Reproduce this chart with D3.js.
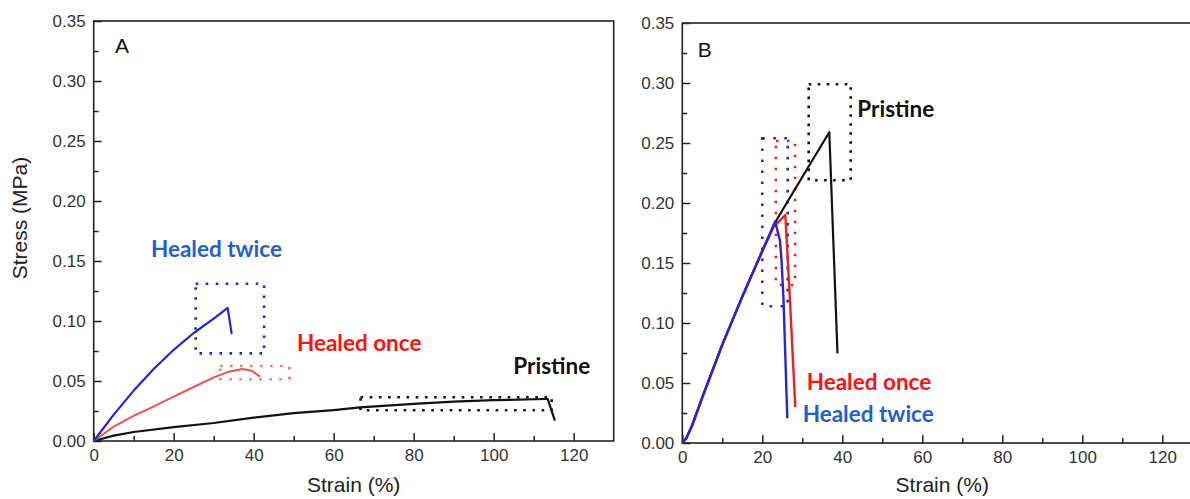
<!DOCTYPE html>
<html><head><meta charset="utf-8">
<script src="https://cdn.jsdelivr.net/npm/d3@7"></script>
<style>body{margin:0;background:#fff;overflow:hidden}</style>
</head><body>
<svg id="c" width="1190" height="499"></svg>
<script>
// ---------- data ----------
const xTicks = [0, 20, 40, 60, 80, 100, 120];
const xMinorTicks = [10, 30, 50, 70, 90, 110];
const yTicks = [0, 0.05, 0.10, 0.15, 0.20, 0.25, 0.30, 0.35];
const yMinorTicks = [0.025, 0.075, 0.125, 0.175, 0.225, 0.275, 0.325];

// Panel A
const aPristineStrain = [0, 5, 10, 20, 30, 40, 50, 60, 66.6, 80, 90, 100, 112.8, 113.5, 115.3];
const aPristineStress = [0, 0.0045, 0.0075, 0.0115, 0.015, 0.0195, 0.0232, 0.0258, 0.028, 0.031, 0.0328, 0.034, 0.035, 0.035, 0.017];
const aOnceStrain = [0, 5, 10, 13.2, 20, 25, 30, 34, 37.2, 39.5, 41.6];
const aOnceStress = [0, 0.012, 0.021, 0.026, 0.037, 0.045, 0.053, 0.058, 0.060, 0.0585, 0.0536];
const aTwiceStrain = [0, 5, 10, 15, 20, 25, 30, 33.5, 34.5];
const aTwiceStress = [0, 0.022, 0.042, 0.060, 0.076, 0.090, 0.102, 0.111, 0.089];

// Panel B
const bPristineStrain = [0, 1, 2.5, 5, 10, 15, 20, 23.6, 31.5, 36.75, 38.8];
const bPristineStress = [0, 0.004, 0.015, 0.038, 0.082, 0.122, 0.160, 0.186, 0.230, 0.259, 0.0747];
const bOnceStrain = [0, 1, 2.5, 5, 10, 15, 20, 22.8, 25.75, 26.9, 28.25];
const bOnceStress = [0, 0.004, 0.015, 0.038, 0.082, 0.122, 0.160, 0.180, 0.190, 0.120, 0.030];
const bTwiceStrain = [0, 1, 2.5, 5, 10, 15, 20, 23.2, 24.4, 24.8, 25.3, 26.25];
const bTwiceStress = [0, 0.004, 0.015, 0.038, 0.082, 0.122, 0.160, 0.1845, 0.169, 0.1525, 0.120, 0.0206];

// dotted boxes [strain0, strain1, stress0, stress1]
const aBoxTwice = [25.5, 42.6, 0.073, 0.131];
const aBoxOnce = [31.6, 48.9, 0.0514, 0.0625];
const aBoxPristine = [66.7, 114.5, 0.0256, 0.0364];
const bBoxPristine = [31.6, 42.1, 0.219, 0.299];
const bBoxTwice = [20.0, 26.35, 0.114, 0.254];
const bBoxOnce = [23.4, 28.2, 0.1317, 0.2517];

// annotation labels [text, strain, stress]
const aLabels = [["Healed twice", 14.3, 0.153], ["Healed once", 50.8, 0.0753], ["Pristine", 104.9, 0.0558]];
const bLabels = [["Pristine", 43.75, 0.272], ["Healed once", 31.1, 0.0442], ["Healed twice", 30.1, 0.0178]];

// ---------- styles ----------
const BLACK = "#111111", BLUE = "#2424dc", RED_A = "#f05050", RED_B = "#f01e1e";
const TXT_BLUE = "#1f5fcf", TXT_RED = "#ff1010", TXT_BLACK = "#111";
const tickFont = "Liberation Sans, Arial, sans-serif";
const labelFont = "Lato, sans-serif";

const svg = d3.select("#c");

function drawPanel(opt) {
  const x = d3.scaleLinear().domain([0, 130]).range([opt.left, opt.left + 520]);
  const y = d3.scaleLinear().domain([0, 0.35]).range([opt.bottom, opt.bottom - 420]);
  const g = svg.append("g");

  // minor ticks
  g.append("g").attr("transform", `translate(0,${opt.bottom})`)
    .call(d3.axisBottom(x).tickValues(xMinorTicks).tickSize(-5).tickFormat(""))
    .call(s => s.select(".domain").remove());
  g.append("g").attr("transform", `translate(${opt.left},0)`)
    .call(d3.axisLeft(y).tickValues(yMinorTicks).tickSize(-5).tickFormat(""))
    .call(s => s.select(".domain").remove());
  // major
  g.append("g").attr("transform", `translate(0,${opt.bottom})`)
    .call(d3.axisBottom(x).tickValues(xTicks).tickSize(-8).tickPadding(8).tickFormat(d3.format("d")))
    .call(s => s.select(".domain").remove());
  g.append("g").attr("transform", `translate(${opt.left},0)`)
    .call(d3.axisLeft(y).tickValues(yTicks).tickSize(-8).tickPadding(8).tickFormat(d3.format(".2f")))
    .call(s => s.select(".domain").remove());
  g.selectAll(".tick line").attr("stroke", "#222").attr("stroke-width", 1.5);
  g.selectAll(".tick text").attr("font-family", tickFont).attr("font-size", 17).attr("fill", "#333");

  // frame
  g.append("rect").attr("x", x(0)).attr("y", y(0.35)).attr("width", x(130) - x(0)).attr("height", y(0) - y(0.35))
    .attr("fill", "none").attr("stroke", "#222").attr("stroke-width", 1.6);

  // boxes
  opt.boxes.forEach(([b, col, dash]) => {
    g.append("rect").attr("x", x(b[0])).attr("y", y(b[3]))
      .attr("width", x(b[1]) - x(b[0])).attr("height", y(b[2]) - y(b[3]))
      .attr("fill", "none").attr("stroke", col).attr("stroke-width", 2.6)
      .attr("stroke-dasharray", dash);
  });

  // lines
  const line = d3.line().x(d => x(d[0])).y(d => y(d[1]));
  opt.series.forEach(([sx, sy, col, w]) => {
    g.append("path").datum(sx.map((v, i) => [v, sy[i]]))
      .attr("d", line).attr("fill", "none").attr("stroke", col).attr("stroke-width", w)
      .attr("stroke-linejoin", "round");
  });

  // labels
  opt.labels.forEach(([t, sx, sy], i) => {
    g.append("text").attr("x", x(sx)).attr("y", y(sy)).text(t)
      .attr("font-family", labelFont).attr("font-weight", "bold").attr("font-size", 22.5)
      .attr("fill", opt.labelColors[i]);
  });

  // panel letter
  g.append("text").attr("x", x(opt.letterPos[0])).attr("y", y(opt.letterPos[1])).text(opt.letter)
    .attr("font-family", tickFont).attr("font-size", 21).attr("fill", "#111");

  // x title
  g.append("text").attr("x", x(65)).attr("y", 492).attr("text-anchor", "middle").text("Strain (%)")
    .attr("font-family", tickFont).attr("font-size", 21).attr("fill", "#222");
  return {x, y};
}

drawPanel({
  left: 93.7, bottom: 441, letter: "A", letterPos: [5.3, 0.3236],
  series: [[aPristineStrain, aPristineStress, BLACK, 2.2], [aOnceStrain, aOnceStress, RED_A, 2], [aTwiceStrain, aTwiceStress, BLUE, 2.2]],
  boxes: [[aBoxTwice, BLUE, "2.6,7.4"], [aBoxOnce, "#f07a7a", "2.6,7.4"], [aBoxPristine, BLACK, "2.6,6.6"]],
  labels: aLabels, labelColors: [TXT_BLUE, TXT_RED, TXT_BLACK]
});
drawPanel({
  left: 682.3, bottom: 443, letter: "B", letterPos: [3.85, 0.3217],
  series: [[bPristineStrain, bPristineStress, BLACK, 2.2], [bOnceStrain, bOnceStress, RED_B, 2.4], [bTwiceStrain, bTwiceStress, BLUE, 2.4]],
  boxes: [[bBoxTwice, BLUE, "2.6,8.4"], [bBoxOnce, RED_B, "2.6,8.4"], [bBoxPristine, BLACK, "2.6,6.4"]],
  labels: bLabels, labelColors: [TXT_BLACK, TXT_RED, TXT_BLUE]
});

// y title (panel A only)
svg.append("text").attr("transform", "translate(27,218) rotate(-90)").attr("text-anchor", "middle")
  .text("Stress (MPa)").attr("font-family", tickFont).attr("font-size", 21).attr("fill", "#222");
</script>
</body></html>
